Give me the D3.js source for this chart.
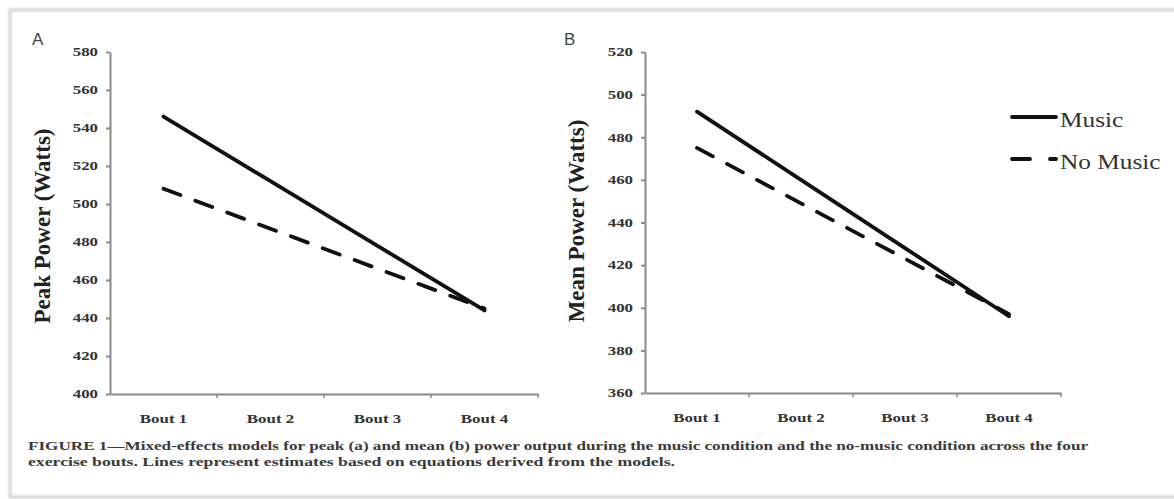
<!DOCTYPE html>
<html>
<head>
<meta charset="utf-8">
<script src="https://cdn.jsdelivr.net/npm/d3@7.9.0/dist/d3.min.js"></script>
<style>
  body { margin: 0; background: #fff; }
  svg { display: block; }
</style>
</head>
<body>
<div id="chart"></div>
<script>
// data
const bouts = ['Bout 1', 'Bout 2', 'Bout 3', 'Bout 4'];
const peakMusic = [546, 512, 478, 444];
const peakNoMusic = [508, 487, 466, 445];
const meanMusic = [492, 460, 428, 396];
const meanNoMusic = [475, 449, 423, 397];
const peakTicks = [400, 420, 440, 460, 480, 500, 520, 540, 560, 580];
const meanTicks = [360, 380, 400, 420, 440, 460, 480, 500, 520];
const legendLabels = ['Music', 'No Music'];
const captionLines = [
  'FIGURE 1\u2014Mixed-effects models for peak (a) and mean (b) power output during the music condition and the no-music condition across the four',
  'exercise bouts. Lines represent estimates based on equations derived from the models.'
];

const width = 1174;
const height = 499;
const serif = '"Liberation Serif", "Times New Roman", Times, serif';
const dash = '18,16';

const svg = d3.select('#chart')
  .append('svg')
  .attr('width', width)
  .attr('height', height)
  .attr('font-family', serif);

// soft frame around the figure
const defs = svg.append('defs');
defs.append('filter').attr('id', 'soft')
  .append('feGaussianBlur').attr('stdDeviation', 1);

svg.append('rect')
  .attr('x', 10).attr('y', 10)
  .attr('width', 1250).attr('height', 487)
  .attr('fill', 'none')
  .attr('stroke', '#d4d4d4')
  .attr('stroke-width', 3)
  .attr('filter', 'url(#soft)');

// widen text (the figure is a horizontally stretched scan)
function widen(sel, k) {
  sel.each(function () {
    const len = this.getComputedTextLength();
    d3.select(this)
      .attr('textLength', len * k)
      .attr('lengthAdjust', 'spacingAndGlyphs');
  });
}

function drawPanel(opts) {
  const { left, right, top, bottom, domain, ticks, music, noMusic, title, titleX, titleY, letter, letterX } = opts;

  const x = d3.scaleBand().domain(bouts).range([left, right]).padding(0);
  const y = d3.scaleLinear().domain(domain).range([bottom, top]);

  const g = svg.append('g');

  // y axis
  const yAxis = g.append('g')
    .attr('transform', `translate(${left},0)`)
    .call(d3.axisLeft(y).tickValues(ticks).tickSize(4).tickSizeOuter(0).tickPadding(8))
    .attr('font-family', serif)
    .attr('font-size', 12)
    .attr('font-weight', 'bold');
  yAxis.selectAll('text').attr('fill', '#333');
  widen(yAxis.selectAll('text'), 1.4);

  // x axis (labels centred in bands, ticks at band edges)
  const xAxis = g.append('g')
    .attr('transform', `translate(0,${bottom})`)
    .call(d3.axisBottom(x).tickSize(0).tickSizeOuter(0).tickPadding(20))
    .attr('font-family', serif)
    .attr('font-size', 13)
    .attr('font-weight', 'bold');
  xAxis.selectAll('text').attr('fill', '#333');
  widen(xAxis.selectAll('text'), 1.3);

  xAxis.selectAll('.edge')
    .data(bouts)
    .join('line')
    .attr('class', 'edge')
    .attr('x1', (d) => x(d) + x.bandwidth())
    .attr('x2', (d) => x(d) + x.bandwidth())
    .attr('y1', 0).attr('y2', 4)
    .attr('stroke', '#8a8a8a').attr('stroke-width', 1.5);

  g.selectAll('.domain, .tick line')
    .attr('stroke', '#8a8a8a')
    .attr('stroke-width', 2);

  // series lines
  const line = d3.line()
    .x((d, i) => x(bouts[i]) + x.bandwidth() / 2)
    .y((d) => y(d));

  g.append('path')
    .datum(noMusic)
    .attr('d', line)
    .attr('fill', 'none')
    .attr('stroke', '#111')
    .attr('stroke-width', 3.8)
    .attr('stroke-dasharray', dash)
    .attr('stroke-linecap', 'round');

  g.append('path')
    .datum(music)
    .attr('d', line)
    .attr('fill', 'none')
    .attr('stroke', '#111')
    .attr('stroke-width', 3.8)
    .attr('stroke-linecap', 'round');

  // axis title
  g.append('text')
    .attr('transform', `translate(${titleX},${titleY}) rotate(-90)`)
    .attr('text-anchor', 'middle')
    .attr('dy', '0.35em')
    .attr('font-weight', 'bold')
    .attr('font-size', 23)
    .attr('fill', '#222')
    .text(title);

  // panel letter
  g.append('text')
    .attr('x', letterX).attr('y', 45)
    .attr('font-family', '"Liberation Sans", Arial, sans-serif')
    .attr('font-size', 17)
    .attr('fill', '#444')
    .text(letter);
}

drawPanel({
  left: 110, right: 538, top: 52, bottom: 394,
  domain: [400, 580], ticks: peakTicks,
  music: peakMusic, noMusic: peakNoMusic,
  title: 'Peak Power (Watts)', titleX: 42, titleY: 226,
  letter: 'A', letterX: 32
});

drawPanel({
  left: 645, right: 1061, top: 52, bottom: 393,
  domain: [360, 520], ticks: meanTicks,
  music: meanMusic, noMusic: meanNoMusic,
  title: 'Mean Power (Watts)', titleX: 576, titleY: 221,
  letter: 'B', letterX: 564
});

// legend
const legend = svg.append('g').attr('transform', 'translate(1010,0)');
const legendY = [117, 159];
legendLabels.forEach((label, i) => {
  legend.append('line')
    .attr('x1', 2).attr('x2', 46)
    .attr('y1', legendY[i]).attr('y2', legendY[i])
    .attr('stroke', '#111')
    .attr('stroke-width', 3.8)
    .attr('stroke-linecap', 'round')
    .attr('stroke-dasharray', i === 1 ? '18,20' : null);
  const t = legend.append('text')
    .attr('x', 50).attr('y', legendY[i] + 10)
    .attr('font-size', 22)
    .attr('fill', '#333')
    .text(label);
  widen(t, 1.15);
});

// caption
const captionWidths = [1060, 647];
svg.selectAll('.caption')
  .data(captionLines)
  .join('text')
  .attr('class', 'caption')
  .attr('x', 28)
  .attr('y', (d, i) => 450 + i * 16)
  .attr('textLength', (d, i) => captionWidths[i])
  .attr('lengthAdjust', 'spacingAndGlyphs')
  .attr('font-weight', 'bold')
  .attr('font-size', 12)
  .attr('fill', '#3a3a3a')
  .text((d) => d);
</script>
</body>
</html>
